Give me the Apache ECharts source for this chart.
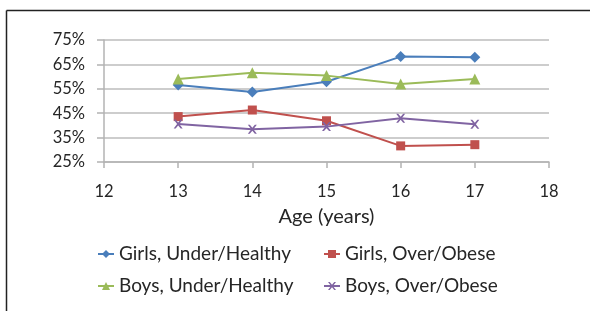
<!DOCTYPE html>
<html>
<head>
<meta charset="utf-8">
<script src="https://cdn.jsdelivr.net/npm/echarts@6/dist/echarts.min.js"></script>
<style>
  html, body { margin: 0; padding: 0; background: #fff; }
  #main { width: 590px; height: 311px; }
</style>
</head>
<body>
<div id="main"></div>
<script>
// ages on the x axis
var ages = [13, 14, 15, 16, 17];
// percentages
var girlsHealthy = [56.6, 53.7, 57.9, 68.2, 67.9];
var girlsObese = [43.6, 46.3, 41.9, 31.6, 32.1];
var boysHealthy = [59.0, 61.6, 60.4, 57.0, 59.0];
var boysObese = [40.6, 38.4, 39.5, 42.9, 40.5];
var seriesNames = ['Girls, Under/Healthy', 'Girls, Over/Obese', 'Boys, Under/Healthy', 'Boys, Over/Obese'];

function pairs(vals) {
    return ages.map(function (a, i) { return [a, vals[i]]; });
}

var font = 'Lato, "Open Sans", sans-serif';
var crossPath = 'path://M0,0 L2.2,0 L5,3.3 L7.8,0 L10,0 L6.2,5 L10,10 L7.8,10 L5,6.7 L2.2,10 L0,10 L3.8,5 Z';

var chart = echarts.init(document.getElementById('main'));
var option = {
    animation: false,
    grid: { left: 104, right: 41, top: 40, bottom: 149 },
    graphic: [
        // frame lines round the chart area
        { type: 'line', shape: { x1: 6.5, y1: 10.5, x2: 590, y2: 10.5 }, style: { stroke: '#222', lineWidth: 1.5 } },
        { type: 'line', shape: { x1: 6.5, y1: 10.5, x2: 6.5, y2: 311 }, style: { stroke: '#222', lineWidth: 1.5 } }
    ],
    xAxis: {
        type: 'value',
        min: 12,
        max: 18,
        interval: 1,
        name: 'Age (years)',
        nameLocation: 'middle',
        nameGap: 45,
        nameTextStyle: { fontFamily: font, fontSize: 20, color: '#262626' },
        axisLine: { lineStyle: { color: '#b3b3b3', width: 1.5 } },
        axisTick: { show: true, length: 6, lineStyle: { color: '#b3b3b3', width: 1.5 } },
        axisLabel: { margin: 21, fontFamily: font, fontSize: 16.5, color: '#262626' },
        splitLine: { show: false }
    },
    yAxis: {
        type: 'value',
        min: 25,
        max: 75,
        interval: 10,
        axisLine: { show: true, lineStyle: { color: '#b3b3b3', width: 1.5 } },
        axisTick: { show: true, length: 7, lineStyle: { color: '#b3b3b3', width: 1.5 } },
        axisLabel: { margin: 19, fontFamily: font, fontSize: 16.5, color: '#262626', formatter: '{value}%' },
        splitLine: { lineStyle: { color: '#bdbdbd', width: 1.5 } }
    },
    legend: {
        left: 97,
        top: 243,
        width: 480,
        padding: 0,
        itemWidth: 16,
        itemHeight: 10,
        itemGap: 10,
        data: seriesNames,
        textStyle: { fontFamily: font, fontSize: 19, color: '#262626', width: 194, lineHeight: 22 }
    },
    series: [
        {
            name: seriesNames[0], type: 'line', data: pairs(girlsHealthy),
            symbol: 'diamond', symbolSize: 11,
            itemStyle: { color: '#4a7ebb' }, lineStyle: { width: 2 }
        },
        {
            name: seriesNames[1], type: 'line', data: pairs(girlsObese),
            symbol: 'rect', symbolSize: 9,
            itemStyle: { color: '#c0504d' }, lineStyle: { width: 2 }
        },
        {
            name: seriesNames[2], type: 'line', data: pairs(boysHealthy),
            symbol: 'triangle', symbolSize: 11,
            itemStyle: { color: '#9bbb59' }, lineStyle: { width: 2 }
        },
        {
            name: seriesNames[3], type: 'line', data: pairs(boysObese),
            symbol: crossPath, symbolSize: 9,
            itemStyle: { color: '#8064a2' }, lineStyle: { width: 2 }
        }
    ]
};
chart.setOption(option);
</script>
</body>
</html>
